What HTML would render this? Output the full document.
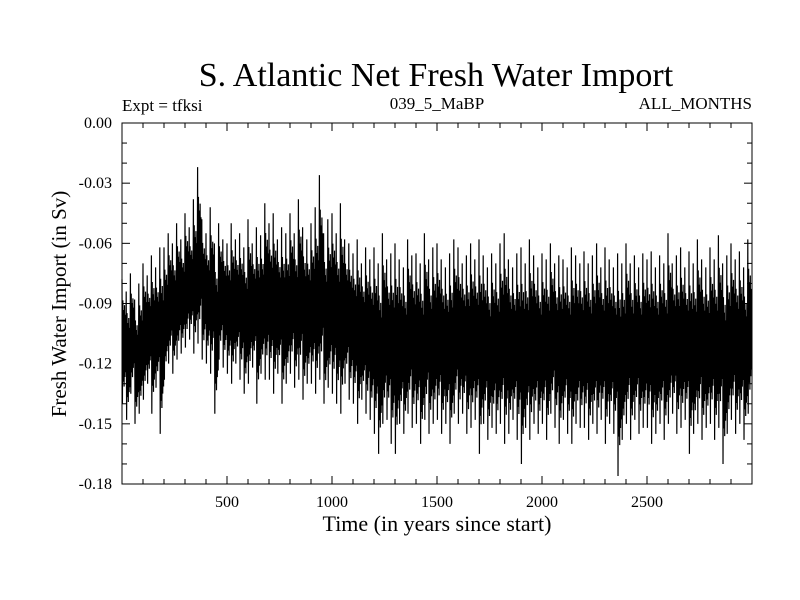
<!DOCTYPE html>
<html><head><meta charset="utf-8"><style>
html,body{margin:0;padding:0;background:#fff;}
svg{display:block;font-family:"Liberation Serif",serif;}
</style></head><body>
<svg id="chart" width="800" height="600">
<rect width="800" height="600" fill="#fff"/>
<text x="436" y="86" font-size="34" text-anchor="middle">S. Atlantic Net Fresh Water Import</text>
<text x="122" y="111" font-size="17">Expt = tfksi</text>
<text x="437" y="109" font-size="17" text-anchor="middle">039_5_MaBP</text>
<text x="752" y="109" font-size="17" text-anchor="end">ALL_MONTHS</text>
<text transform="translate(66,304) rotate(-90)" font-size="21" text-anchor="middle">Fresh Water Import (in Sv)</text>
<text x="437" y="531" font-size="22" text-anchor="middle">Time (in years since start)</text>
<g id="marks"></g>
<g id="axes"></g>
</svg>
<script>
const xTickValues=[500,1000,1500,2000,2500];
const yTickValues=[0,-0.03,-0.06,-0.09,-0.12,-0.15,-0.18];
const yTickLabels=["0.00","-0.03","-0.06","-0.09","-0.12","-0.15","-0.18"];
const binYears=20;
const highValues=[-0.078,-0.084,-0.075,-0.088,-0.080,-0.070,-0.076,-0.066,-0.072,-0.062,
-0.062,-0.055,-0.060,-0.050,-0.058,-0.045,-0.052,-0.038,-0.022,-0.048,
-0.055,-0.042,-0.060,-0.050,-0.058,-0.060,-0.050,-0.058,-0.055,-0.062,
-0.048,-0.060,-0.052,-0.056,-0.040,-0.050,-0.045,-0.058,-0.052,-0.055,
-0.045,-0.055,-0.038,-0.052,-0.058,-0.050,-0.042,-0.026,-0.055,-0.048,
-0.045,-0.055,-0.040,-0.058,-0.060,-0.065,-0.058,-0.070,-0.062,-0.068,
-0.062,-0.070,-0.055,-0.068,-0.065,-0.060,-0.068,-0.072,-0.058,-0.066,
-0.065,-0.070,-0.055,-0.068,-0.062,-0.060,-0.068,-0.072,-0.065,-0.058,
-0.062,-0.070,-0.066,-0.060,-0.068,-0.058,-0.066,-0.072,-0.065,-0.070,
-0.060,-0.055,-0.068,-0.072,-0.065,-0.062,-0.070,-0.058,-0.066,-0.072,
-0.065,-0.068,-0.060,-0.070,-0.066,-0.068,-0.072,-0.062,-0.066,-0.070,
-0.064,-0.070,-0.066,-0.060,-0.072,-0.062,-0.068,-0.072,-0.065,-0.070,
-0.060,-0.070,-0.066,-0.072,-0.065,-0.068,-0.064,-0.072,-0.066,-0.070,
-0.055,-0.070,-0.066,-0.062,-0.072,-0.064,-0.070,-0.058,-0.068,-0.072,
-0.062,-0.068,-0.056,-0.070,-0.066,-0.060,-0.068,-0.064,-0.072,-0.058];
const lowValues=[-0.140,-0.148,-0.135,-0.150,-0.145,-0.138,-0.130,-0.145,-0.132,-0.155,
-0.128,-0.120,-0.125,-0.118,-0.115,-0.112,-0.108,-0.115,-0.110,-0.118,
-0.120,-0.125,-0.145,-0.118,-0.122,-0.125,-0.130,-0.120,-0.128,-0.135,
-0.130,-0.122,-0.140,-0.125,-0.128,-0.128,-0.135,-0.125,-0.140,-0.130,
-0.125,-0.132,-0.128,-0.138,-0.130,-0.130,-0.135,-0.128,-0.140,-0.132,
-0.135,-0.140,-0.145,-0.130,-0.138,-0.140,-0.150,-0.138,-0.145,-0.148,
-0.155,-0.165,-0.150,-0.148,-0.160,-0.165,-0.150,-0.155,-0.145,-0.152,
-0.150,-0.160,-0.148,-0.155,-0.150,-0.148,-0.155,-0.150,-0.160,-0.145,
-0.150,-0.145,-0.155,-0.152,-0.148,-0.165,-0.150,-0.158,-0.152,-0.155,
-0.150,-0.160,-0.155,-0.148,-0.158,-0.170,-0.152,-0.158,-0.150,-0.155,
-0.150,-0.158,-0.145,-0.152,-0.160,-0.148,-0.155,-0.160,-0.150,-0.152,
-0.152,-0.158,-0.150,-0.155,-0.148,-0.160,-0.150,-0.155,-0.176,-0.158,
-0.150,-0.158,-0.148,-0.155,-0.152,-0.152,-0.160,-0.155,-0.150,-0.158,
-0.150,-0.145,-0.155,-0.152,-0.148,-0.165,-0.155,-0.150,-0.158,-0.152,
-0.150,-0.158,-0.152,-0.170,-0.155,-0.148,-0.155,-0.150,-0.158,-0.145];
const NS="http://www.w3.org/2000/svg";
const L=122,R=752,T=123,B=484,X0=0,X1=3000,Y0=0,Y1=-0.18;
function xs(v){return L+(v-X0)/(X1-X0)*(R-L);}
function ys(v){return T+(v-Y0)/(Y1-Y0)*(B-T);}
function mk(tag,attrs,parent){const e=document.createElementNS(NS,tag);for(const k in attrs)e.setAttribute(k,attrs[k]);parent.appendChild(e);return e;}
const marks=document.getElementById('marks'),axes=document.getElementById('axes');
const subLevel=[0,1,0.05,0.9,0.15,0.95,0.1,0.85,0.2,0.8];
let pts=[];
for(let i=0;i<highValues.length;i++){
  const hi=highValues[i],lo=lowValues[i];
  const coreHi=hi+(lo-hi)*0.13,coreLo=lo-(lo-hi)*0.1;
  const n=subLevel.length;
  for(let k=0;k<n;k++){
    const yr=i*binYears+binYears*k/n;
    let v;
    if(k===0)v=hi;else if(k===1)v=lo;
    else v=coreHi+(coreLo-coreHi)*subLevel[k];
    pts.push(xs(yr).toFixed(2)+","+ys(v).toFixed(2));
  }
}
const line=mk('polyline',{points:pts.join(' '),fill:'none',stroke:'#000','stroke-width':1.2},marks);


const frame=mk('rect',{x:L,y:T,width:R-L,height:B-T,fill:'none',stroke:'#000','stroke-width':1},axes);


for(let v=100;v<3000;v+=100){
  const big=v%500===0,len=big?8:5,x=xs(v);
  mk('line',{x1:x,y1:B,x2:x,y2:B-len,stroke:'#000'},axes);
  mk('line',{x1:x,y1:T,x2:x,y2:T+len,stroke:'#000'},axes);
}
for(let k=1;k<18;k++){
  const v=-k*0.01,big=k%3===0,len=big?8:5,y=ys(v);
  mk('line',{x1:L,y1:y,x2:L+len,y2:y,stroke:'#000'},axes);
  mk('line',{x1:R,y1:y,x2:R-len,y2:y,stroke:'#000'},axes);
}
xTickValues.forEach(v=>{
  const t=mk('text',{x:xs(v),y:B+23,'font-size':16,'text-anchor':'middle'},axes);
  t.textContent=v;
  
  
});
yTickValues.forEach((v,i)=>{
  const t=mk('text',{x:L-10,y:ys(v)+5,'font-size':16,'text-anchor':'end'},axes);
  t.textContent=yTickLabels[i];
  
  
});
</script>
</body></html>
